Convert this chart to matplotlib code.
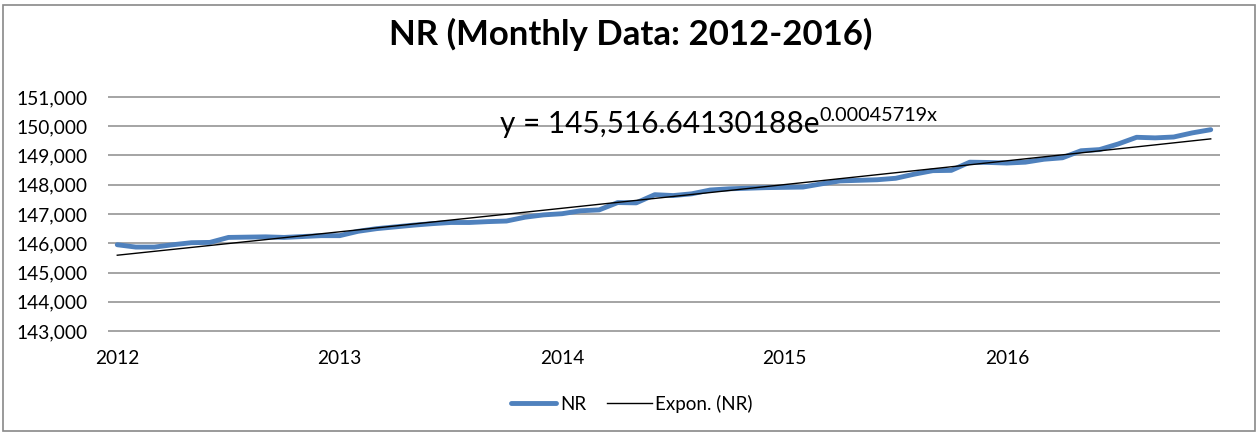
import numpy as np
import matplotlib.pyplot as plt
from matplotlib.patches import Rectangle
from matplotlib.ticker import FuncFormatter

plt.rcParams['font.family'] = ['Lato', 'DejaVu Sans']

# aylik veri 2012-2016 (60 ay)
yillar = ['2012', '2013', '2014', '2015', '2016']
nr = [145950, 145870, 145870, 145950, 146020, 146030, 146200, 146210, 146220, 146200,
      146230, 146260, 146260, 146410, 146500, 146560, 146620, 146670, 146710, 146710,
      146740, 146760, 146890, 146970, 147010, 147110, 147140, 147390, 147380, 147660,
      147630, 147690, 147820, 147860, 147880, 147900, 147910, 147920, 148030, 148130,
      148150, 148170, 148220, 148360, 148480, 148490, 148770, 148760, 148740, 148770,
      148870, 148920, 149160, 149200, 149390, 149620, 149600, 149630, 149770, 149880]
y_etiketler = [143000, 144000, 145000, 146000, 147000, 148000, 149000, 150000, 151000]
denklem = 'y = 145,516.64130188e'
us = '0.00045719x'

ay = np.arange(len(nr))
# excel gibi x = 1..n ile ustel trend
t = ay + 1
b, ln_a = np.polyfit(t, np.log(nr), 1)
trend = np.exp(ln_a) * np.exp(b * t)

W, H = 1257, 433
fig = plt.figure(figsize=(W / 100, H / 100), dpi=100)
ax = fig.add_axes([108 / W, 101.3 / H, 1112 / W, 235.4 / H])

ax.plot(ay, nr, color='#4F81BD', lw=3.5, solid_capstyle='round', label='NR', zorder=3)
ax.plot(ay, trend, color='black', lw=1.0, label='Expon. (NR)', zorder=4)

ax.set_xlim(-0.5, len(nr) - 0.5)
ax.set_ylim(y_etiketler[0] - 20, y_etiketler[-1] + 20)
ax.set_yticks(y_etiketler)
ax.yaxis.set_major_formatter(FuncFormatter(lambda v, p: f'{v:,.0f}'))
ax.set_xticks(ay[::12])
ax.set_xticklabels(yillar)
ax.grid(axis='y', color='#8c8c8c', lw=1.1)
ax.set_axisbelow(True)
for s in ax.spines.values():
    s.set_visible(False)
ax.tick_params(axis='both', length=0, labelsize=13.8)
ax.tick_params(axis='y', pad=15)
ax.tick_params(axis='x', pad=13.5)

fig.text(631 / W, (H - 45) / H, 'NR (Monthly Data: 2012-2016)', ha='center', va='baseline',
         fontsize=25, fontweight='bold')

ana = fig.text(500 / W, (H - 133) / H, denklem, ha='left', va='baseline', fontsize=21.4)
r = fig.canvas.get_renderer()
bb = ana.get_window_extent(renderer=r)
fig.text(bb.x1 / W, (H - 121) / H, us, ha='left', va='baseline', fontsize=14.2)

fig.legend(loc='center', bbox_to_anchor=(632 / W, (H - 404) / H), ncol=2, frameon=False,
           fontsize=13.5, handlelength=2.4, handletextpad=0.2, columnspacing=1.1)

fig.patches.append(Rectangle((3 / W, 2 / H), 1252 / W, 426 / H, transform=fig.transFigure,
                             fill=False, edgecolor='#898989', lw=1.2))

fig.savefig('out.png', dpi=100)
